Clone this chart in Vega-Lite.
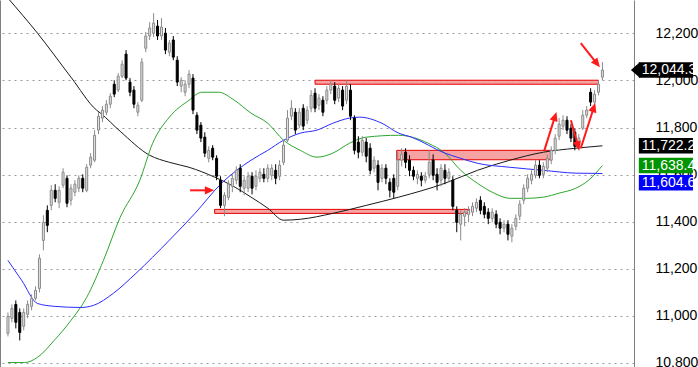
{
  "$schema": "https://vega.github.io/schema/vega-lite/v6.json",
  "width": 634,
  "height": 367,
  "padding": {"left": 0, "top": 0, "right": 64, "bottom": 0},
  "autosize": {"type": "none"},
  "background": "white",
  "config": {"view": {"stroke": null}, "font": "Liberation Sans"},
  "datasets": {
    "candles": [
      {"i":0,"o":10925,"h":11014,"l":10912,"c":10997},
      {"i":1,"o":10989,"h":11048,"l":10972,"c":11031},
      {"i":2,"o":11048,"h":11065,"l":10946,"c":10972},
      {"i":3,"o":11014,"h":11031,"l":10895,"c":10929},
      {"i":4,"o":10955,"h":11031,"l":10938,"c":11014},
      {"i":5,"o":11006,"h":11065,"l":10989,"c":11048},
      {"i":6,"o":11040,"h":11091,"l":11023,"c":11074},
      {"i":7,"o":11074,"h":11125,"l":11065,"c":11108},
      {"i":8,"o":11116,"h":11261,"l":11099,"c":11244},
      {"i":9,"o":11320,"h":11427,"l":11278,"c":11397},
      {"i":10,"o":11448,"h":11469,"l":11355,"c":11384},
      {"i":11,"o":11469,"h":11555,"l":11448,"c":11533},
      {"i":12,"o":11533,"h":11559,"l":11482,"c":11499},
      {"i":13,"o":11482,"h":11550,"l":11457,"c":11533},
      {"i":14,"o":11555,"h":11627,"l":11542,"c":11610},
      {"i":15,"o":11584,"h":11597,"l":11461,"c":11478},
      {"i":16,"o":11491,"h":11559,"l":11469,"c":11542},
      {"i":17,"o":11525,"h":11576,"l":11508,"c":11559},
      {"i":18,"o":11542,"h":11597,"l":11525,"c":11584},
      {"i":19,"o":11584,"h":11601,"l":11525,"c":11542},
      {"i":20,"o":11533,"h":11644,"l":11525,"c":11631},
      {"i":21,"o":11640,"h":11691,"l":11627,"c":11674},
      {"i":22,"o":11661,"h":11789,"l":11652,"c":11767},
      {"i":23,"o":11789,"h":11865,"l":11772,"c":11848},
      {"i":24,"o":11840,"h":11891,"l":11823,"c":11874},
      {"i":25,"o":11865,"h":11916,"l":11852,"c":11899},
      {"i":26,"o":11899,"h":11946,"l":11882,"c":11933},
      {"i":27,"o":11984,"h":12001,"l":11929,"c":11942},
      {"i":28,"o":11959,"h":12031,"l":11950,"c":12018},
      {"i":29,"o":12018,"h":12086,"l":12010,"c":12069},
      {"i":30,"o":12112,"h":12129,"l":12001,"c":12010},
      {"i":31,"o":11993,"h":12010,"l":11933,"c":11950},
      {"i":32,"o":11959,"h":11976,"l":11882,"c":11899},
      {"i":33,"o":11865,"h":11908,"l":11848,"c":11895},
      {"i":34,"o":11916,"h":12095,"l":11908,"c":12078},
      {"i":35,"o":12137,"h":12206,"l":12120,"c":12189},
      {"i":36,"o":12189,"h":12248,"l":12172,"c":12223},
      {"i":37,"o":12201,"h":12286,"l":12184,"c":12244},
      {"i":38,"o":12231,"h":12257,"l":12172,"c":12189},
      {"i":39,"o":12189,"h":12265,"l":12172,"c":12227},
      {"i":40,"o":12201,"h":12223,"l":12112,"c":12129},
      {"i":41,"o":12120,"h":12172,"l":12103,"c":12159},
      {"i":42,"o":12172,"h":12189,"l":12086,"c":12099},
      {"i":43,"o":12086,"h":12103,"l":11976,"c":11993},
      {"i":44,"o":11976,"h":12014,"l":11950,"c":12001},
      {"i":45,"o":11950,"h":12001,"l":11933,"c":11984},
      {"i":46,"o":11984,"h":12044,"l":11967,"c":12027},
      {"i":47,"o":12010,"h":12027,"l":11857,"c":11874},
      {"i":48,"o":11852,"h":11865,"l":11772,"c":11789},
      {"i":49,"o":11810,"h":11823,"l":11738,"c":11755},
      {"i":50,"o":11759,"h":11780,"l":11674,"c":11691},
      {"i":51,"o":11669,"h":11720,"l":11652,"c":11703},
      {"i":52,"o":11712,"h":11725,"l":11661,"c":11674},
      {"i":53,"o":11669,"h":11682,"l":11576,"c":11593},
      {"i":54,"o":11576,"h":11593,"l":11457,"c":11469},
      {"i":55,"o":11469,"h":11525,"l":11423,"c":11512},
      {"i":56,"o":11503,"h":11576,"l":11491,"c":11559},
      {"i":57,"o":11550,"h":11601,"l":11525,"c":11584},
      {"i":58,"o":11576,"h":11635,"l":11559,"c":11618},
      {"i":59,"o":11627,"h":11644,"l":11525,"c":11550},
      {"i":60,"o":11542,"h":11593,"l":11512,"c":11576},
      {"i":61,"o":11542,"h":11610,"l":11525,"c":11593},
      {"i":62,"o":11593,"h":11610,"l":11516,"c":11542},
      {"i":63,"o":11550,"h":11618,"l":11533,"c":11593},
      {"i":64,"o":11584,"h":11627,"l":11567,"c":11610},
      {"i":65,"o":11601,"h":11627,"l":11567,"c":11584},
      {"i":66,"o":11584,"h":11644,"l":11567,"c":11627},
      {"i":67,"o":11597,"h":11644,"l":11576,"c":11627},
      {"i":68,"o":11618,"h":11644,"l":11559,"c":11584},
      {"i":69,"o":11593,"h":11661,"l":11576,"c":11640},
      {"i":70,"o":11652,"h":11746,"l":11640,"c":11725},
      {"i":71,"o":11746,"h":11874,"l":11738,"c":11840},
      {"i":72,"o":11848,"h":11916,"l":11831,"c":11882},
      {"i":73,"o":11865,"h":11882,"l":11772,"c":11789},
      {"i":74,"o":11810,"h":11882,"l":11797,"c":11865},
      {"i":75,"o":11882,"h":11899,"l":11789,"c":11806},
      {"i":76,"o":11831,"h":11891,"l":11814,"c":11874},
      {"i":77,"o":11882,"h":11959,"l":11865,"c":11937},
      {"i":78,"o":11946,"h":11967,"l":11865,"c":11882},
      {"i":79,"o":11895,"h":11942,"l":11874,"c":11925},
      {"i":80,"o":11916,"h":11933,"l":11848,"c":11865},
      {"i":81,"o":11916,"h":11976,"l":11899,"c":11959},
      {"i":82,"o":11959,"h":12001,"l":11942,"c":11984},
      {"i":83,"o":11976,"h":11993,"l":11899,"c":11916},
      {"i":84,"o":11925,"h":11984,"l":11908,"c":11967},
      {"i":85,"o":11959,"h":11976,"l":11874,"c":11891},
      {"i":86,"o":11916,"h":12001,"l":11899,"c":11976},
      {"i":87,"o":11959,"h":11984,"l":11831,"c":11848},
      {"i":88,"o":11840,"h":11852,"l":11686,"c":11703},
      {"i":89,"o":11738,"h":11763,"l":11669,"c":11695},
      {"i":90,"o":11695,"h":11763,"l":11678,"c":11746},
      {"i":91,"o":11738,"h":11755,"l":11652,"c":11678},
      {"i":92,"o":11712,"h":11733,"l":11601,"c":11618},
      {"i":93,"o":11627,"h":11678,"l":11610,"c":11661},
      {"i":94,"o":11640,"h":11661,"l":11533,"c":11567},
      {"i":95,"o":11584,"h":11644,"l":11567,"c":11627},
      {"i":96,"o":11627,"h":11644,"l":11559,"c":11584},
      {"i":97,"o":11567,"h":11584,"l":11503,"c":11533},
      {"i":98,"o":11584,"h":11601,"l":11499,"c":11525},
      {"i":99,"o":11550,"h":11695,"l":11533,"c":11661},
      {"i":100,"o":11661,"h":11712,"l":11635,"c":11686},
      {"i":101,"o":11695,"h":11712,"l":11627,"c":11652},
      {"i":102,"o":11661,"h":11682,"l":11593,"c":11618},
      {"i":103,"o":11618,"h":11635,"l":11576,"c":11593},
      {"i":104,"o":11584,"h":11618,"l":11559,"c":11601},
      {"i":105,"o":11593,"h":11610,"l":11550,"c":11576},
      {"i":106,"o":11576,"h":11610,"l":11563,"c":11593},
      {"i":107,"o":11601,"h":11703,"l":11584,"c":11652},
      {"i":108,"o":11661,"h":11686,"l":11576,"c":11597},
      {"i":109,"o":11601,"h":11627,"l":11533,"c":11567},
      {"i":110,"o":11576,"h":11644,"l":11550,"c":11627},
      {"i":111,"o":11618,"h":11644,"l":11559,"c":11584},
      {"i":112,"o":11584,"h":11627,"l":11567,"c":11610},
      {"i":113,"o":11576,"h":11593,"l":11448,"c":11465},
      {"i":114,"o":11448,"h":11465,"l":11355,"c":11397},
      {"i":115,"o":11389,"h":11448,"l":11320,"c":11431},
      {"i":116,"o":11423,"h":11457,"l":11380,"c":11440},
      {"i":117,"o":11431,"h":11465,"l":11397,"c":11448},
      {"i":118,"o":11440,"h":11482,"l":11423,"c":11465},
      {"i":119,"o":11457,"h":11499,"l":11440,"c":11482},
      {"i":120,"o":11491,"h":11508,"l":11431,"c":11448},
      {"i":121,"o":11465,"h":11482,"l":11414,"c":11431},
      {"i":122,"o":11440,"h":11457,"l":11389,"c":11414},
      {"i":123,"o":11414,"h":11457,"l":11397,"c":11440},
      {"i":124,"o":11431,"h":11448,"l":11372,"c":11389},
      {"i":125,"o":11397,"h":11414,"l":11346,"c":11372},
      {"i":126,"o":11372,"h":11406,"l":11355,"c":11389},
      {"i":127,"o":11389,"h":11406,"l":11320,"c":11346},
      {"i":128,"o":11338,"h":11389,"l":11312,"c":11372},
      {"i":129,"o":11380,"h":11431,"l":11363,"c":11414},
      {"i":130,"o":11423,"h":11491,"l":11406,"c":11474},
      {"i":131,"o":11491,"h":11559,"l":11474,"c":11542},
      {"i":132,"o":11542,"h":11601,"l":11525,"c":11584},
      {"i":133,"o":11576,"h":11618,"l":11559,"c":11601},
      {"i":134,"o":11597,"h":11661,"l":11584,"c":11640},
      {"i":135,"o":11640,"h":11661,"l":11584,"c":11597},
      {"i":136,"o":11601,"h":11652,"l":11584,"c":11635},
      {"i":137,"o":11627,"h":11686,"l":11610,"c":11669},
      {"i":138,"o":11661,"h":11720,"l":11644,"c":11703},
      {"i":139,"o":11703,"h":11772,"l":11686,"c":11755},
      {"i":140,"o":11763,"h":11840,"l":11746,"c":11814},
      {"i":141,"o":11806,"h":11852,"l":11789,"c":11831},
      {"i":142,"o":11831,"h":11848,"l":11772,"c":11789},
      {"i":143,"o":11797,"h":11814,"l":11738,"c":11755},
      {"i":144,"o":11780,"h":11797,"l":11703,"c":11720},
      {"i":145,"o":11725,"h":11772,"l":11703,"c":11755},
      {"i":146,"o":11797,"h":11874,"l":11789,"c":11852},
      {"i":147,"o":11852,"h":11891,"l":11840,"c":11874},
      {"i":148,"o":11950,"h":11967,"l":11891,"c":11908},
      {"i":149,"o":11908,"h":11959,"l":11891,"c":11942},
      {"i":150,"o":11950,"h":12001,"l":11937,"c":11984},
      {"i":151,"o":12014,"h":12078,"l":12001,"c":12044.3}
    ],
    "ma": [
      {"s":"long","i":0,"v":12350},{"s":"long","i":7.5,"v":12201},{"s":"long","i":16,"v":12014},{"s":"long","i":22.5,"v":11874},{"s":"long","i":23.5,"v":11861},{"s":"long","i":28.5,"v":11784},{"s":"long","i":36,"v":11682},{"s":"long","i":41,"v":11652},{"s":"long","i":46,"v":11631},{"s":"long","i":52.5,"v":11589},{"s":"long","i":56.75,"v":11555},{"s":"long","i":61.75,"v":11504},{"s":"long","i":66,"v":11457},{"s":"long","i":70,"v":11406},{"s":"long","i":74.25,"v":11410},{"s":"long","i":82.5,"v":11435},{"s":"long","i":91,"v":11469},{"s":"long","i":99.25,"v":11504},{"s":"long","i":111,"v":11563},{"s":"long","i":119.25,"v":11618},{"s":"long","i":127.5,"v":11661},{"s":"long","i":136,"v":11695},{"s":"long","i":144.25,"v":11712},{"s":"long","i":151,"v":11722.2},
      {"s":"mid","i":0,"v":10801},{"s":"mid","i":4.25,"v":10801},{"s":"mid","i":7.5,"v":10823},{"s":"mid","i":11.75,"v":10895},{"s":"mid","i":16,"v":10980},{"s":"mid","i":20,"v":11078},{"s":"mid","i":24.25,"v":11235},{"s":"mid","i":28.5,"v":11418},{"s":"mid","i":33.5,"v":11576},{"s":"mid","i":36.75,"v":11733},{"s":"mid","i":41,"v":11844},{"s":"mid","i":46,"v":11916},{"s":"mid","i":49.25,"v":11950},{"s":"mid","i":53.5,"v":11950},{"s":"mid","i":57.5,"v":11916},{"s":"mid","i":61.75,"v":11861},{"s":"mid","i":66,"v":11818},{"s":"mid","i":70,"v":11746},{"s":"mid","i":74.25,"v":11703},{"s":"mid","i":78.5,"v":11674},{"s":"mid","i":82.5,"v":11691},{"s":"mid","i":86.75,"v":11733},{"s":"mid","i":91,"v":11759},{"s":"mid","i":99.25,"v":11767},{"s":"mid","i":106.75,"v":11733},{"s":"mid","i":111,"v":11691},{"s":"mid","i":115,"v":11618},{"s":"mid","i":119.25,"v":11563},{"s":"mid","i":123.5,"v":11521},{"s":"mid","i":127.5,"v":11499},{"s":"mid","i":131.75,"v":11499},{"s":"mid","i":136,"v":11504},{"s":"mid","i":140,"v":11521},{"s":"mid","i":144.25,"v":11542},{"s":"mid","i":147.5,"v":11576},{"s":"mid","i":151,"v":11638.4},
      {"s":"short","i":0,"v":11235},{"s":"short","i":3.5,"v":11150},{"s":"short","i":7.5,"v":11052},{"s":"short","i":11.75,"v":11040},{"s":"short","i":18.5,"v":11035},{"s":"short","i":21.75,"v":11044},{"s":"short","i":26.75,"v":11095},{"s":"short","i":32.5,"v":11180},{"s":"short","i":41,"v":11321},{"s":"short","i":47.5,"v":11435},{"s":"short","i":54.25,"v":11563},{"s":"short","i":61.75,"v":11661},{"s":"short","i":66,"v":11703},{"s":"short","i":70,"v":11746},{"s":"short","i":74.25,"v":11776},{"s":"short","i":78.5,"v":11789},{"s":"short","i":82.5,"v":11818},{"s":"short","i":86.75,"v":11840},{"s":"short","i":89.25,"v":11844},{"s":"short","i":95,"v":11818},{"s":"short","i":99.25,"v":11776},{"s":"short","i":102.5,"v":11759},{"s":"short","i":111,"v":11691},{"s":"short","i":115,"v":11669},{"s":"short","i":119.25,"v":11648},{"s":"short","i":127.5,"v":11631},{"s":"short","i":136,"v":11618},{"s":"short","i":144.25,"v":11606},{"s":"short","i":151,"v":11604.6}
    ],
    "bands": [
      {"a":78.0,"b":150.0,"top":12001,"bot":11984},
      {"a":52.5,"b":117.25,"top":11452,"bot":11435},
      {"a":98.75,"b":138.0,"top":11703,"bot":11663}
    ],
    "arrows": [
      {"x1":46.25,"p1":11533,"x2":51.0,"p2":11533,"ang":90},
      {"x1":145.5,"p1":12159,"x2":149.5,"p2":12074,"ang":142},
      {"x1":136.25,"p1":11703,"x2":138.9,"p2":11844,"ang":18},
      {"x1":143.0,"p1":11831,"x2":144.75,"p2":11725,"ang":165},
      {"x1":145.5,"p1":11712,"x2":148.75,"p2":11882,"ang":18}
    ],
    "tags": [
      {"label":"12,044.3","pos":12044.3,"kind":"last"},
      {"label":"11,722.2","pos":11722.2,"kind":"long"},
      {"label":"11,638.4","pos":11638.4,"kind":"mid"},
      {"label":"11,604.6","pos":11565,"kind":"short"}
    ]
  },
  "layer": [
    {
      "data": {"name": "bands"},
      "mark": {"type": "rect", "fill": "#f5a3a3", "stroke": "#e60000", "strokeWidth": 1},
      "encoding": {
        "x": {"field": "a", "type": "quantitative", "scale": {"domain": [-0.75, 157.75], "nice": false, "zero": false}, "axis": null},
        "x2": {"field": "b"},
        "y": {"field": "top", "type": "quantitative", "scale": {"domain": [10782, 12342], "nice": false, "zero": false},
              "axis": {"orient": "left", "labels": false, "ticks": false, "grid": false, "domain": true, "domainColor": "#808080", "title": null}},
        "y2": {"field": "bot"}
      }
    },
    {
      "data": {"name": "ma"},
      "mark": {"type": "line", "interpolate": "monotone", "strokeWidth": 1, "clip": true},
      "encoding": {
        "x": {"field": "i", "type": "quantitative", "scale": {"domain": [-0.75, 157.75], "nice": false, "zero": false}, "axis": null},
        "y": {"field": "v", "type": "quantitative", "scale": {"domain": [10782, 12342], "nice": false, "zero": false}, "axis": null},
        "color": {"field": "s", "type": "nominal", "scale": {"domain": ["long", "mid", "short"], "range": ["#1a1a1a", "#2ea52e", "#2b2bff"]}, "legend": null}
      }
    },
    {
      "data": {"name": "candles"},
      "transform": [{"calculate": "datum.c >= datum.o ? 'up' : 'down'", "as": "dir"}],
      "mark": {"type": "rule", "strokeWidth": 1},
      "encoding": {
        "x": {"field": "i", "type": "quantitative", "scale": {"domain": [-0.75, 157.75], "nice": false, "zero": false}, "axis": null},
        "y": {"field": "l", "type": "quantitative", "scale": {"domain": [10782, 12342], "nice": false, "zero": false}, "axis": null},
        "y2": {"field": "h"},
        "color": {"field": "dir", "type": "nominal", "scale": {"domain": ["up", "down"], "range": ["#8a8a8a", "#000000"]}, "legend": null}
      }
    },
    {
      "data": {"name": "candles"},
      "transform": [{"calculate": "datum.c >= datum.o ? 'up' : 'down'", "as": "dir"}],
      "mark": {"type": "bar", "width": 2, "strokeWidth": 1},
      "encoding": {
        "x": {"field": "i", "type": "quantitative", "scale": {"domain": [-0.75, 157.75], "nice": false, "zero": false}, "axis": null},
        "y": {"field": "o", "type": "quantitative", "scale": {"domain": [10782, 12342], "nice": false, "zero": false},
              "axis": {"orient": "right", "values": [10800, 11000, 11200, 11400, 11600, 11800, 12000, 12200], "format": ",d",
                       "grid": true, "gridDash": [2, 4], "gridColor": "#9a9a9a", "gridOpacity": 1,
                       "domain": true, "domainColor": "#808080", "ticks": false, "labelPadding": 21,
                       "labelFontSize": 14, "labelColor": "#000000", "labelFont": "Liberation Sans",
                       "labelFlush": false, "labelOverlap": false, "labelBound": false, "title": null, "zindex": 0}},
        "y2": {"field": "c"},
        "fill": {"field": "dir", "type": "nominal", "scale": {"domain": ["up", "down"], "range": ["#e2e2e2", "#000000"]}, "legend": null},
        "stroke": {"field": "dir", "type": "nominal", "scale": {"domain": ["up", "down"], "range": ["#8a8a8a", "#000000"]}, "legend": null}
      }
    },
    {
      "data": {"name": "arrows"},
      "mark": {"type": "rule", "color": "#ff1a1a", "strokeWidth": 2},
      "encoding": {
        "x": {"field": "x1", "type": "quantitative", "scale": {"domain": [-0.75, 157.75], "nice": false, "zero": false}, "axis": null},
        "x2": {"field": "x2"},
        "y": {"field": "p1", "type": "quantitative", "scale": {"domain": [10782, 12342], "nice": false, "zero": false}, "axis": null},
        "y2": {"field": "p2"}
      }
    },
    {
      "data": {"name": "arrows"},
      "mark": {"type": "point", "shape": "M0,-1L0.75,0.7L-0.75,0.7Z", "filled": true, "color": "#ff1a1a", "opacity": 1, "size": 120},
      "encoding": {
        "x": {"field": "x2", "type": "quantitative", "scale": {"domain": [-0.75, 157.75], "nice": false, "zero": false}, "axis": null},
        "y": {"field": "p2", "type": "quantitative", "scale": {"domain": [10782, 12342], "nice": false, "zero": false}, "axis": null},
        "angle": {"field": "ang", "type": "quantitative", "scale": null}
      }
    },
    {
      "data": {"name": "tags"},
      "transform": [{"calculate": "datum.pos + 33", "as": "ytop"}, {"calculate": "datum.pos - 33", "as": "ybot"}],
      "mark": {"type": "rect"},
      "encoding": {
        "x": {"datum": 160.25, "type": "quantitative", "scale": {"domain": [-0.75, 157.75], "nice": false, "zero": false}, "axis": null},
        "x2": {"datum": 174},
        "y": {"field": "ytop", "type": "quantitative", "scale": {"domain": [10782, 12342], "nice": false, "zero": false}, "axis": null},
        "y2": {"field": "ybot"},
        "fill": {"field": "kind", "type": "nominal", "scale": {"domain": ["last", "long", "mid", "short"], "range": ["#000000", "#000000", "#009400", "#0000ff"]}, "legend": null}
      }
    },
    {
      "data": {"name": "tags"},
      "transform": [{"filter": "datum.kind == 'last'"}],
      "mark": {"type": "point", "shape": "M-0.55,0L0.6,-1L0.6,1Z", "filled": true, "color": "#000000", "opacity": 1, "size": 256},
      "encoding": {
        "x": {"datum": 159.35, "type": "quantitative", "scale": {"domain": [-0.75, 157.75], "nice": false, "zero": false}, "axis": null},
        "y": {"field": "pos", "type": "quantitative", "scale": {"domain": [10782, 12342], "nice": false, "zero": false}, "axis": null}
      }
    },
    {
      "data": {"name": "tags"},
      "mark": {"type": "text", "align": "left", "baseline": "middle", "fontSize": 14, "font": "Liberation Sans", "color": "#ffffff"},
      "encoding": {
        "x": {"datum": 161.0, "type": "quantitative", "scale": {"domain": [-0.75, 157.75], "nice": false, "zero": false}, "axis": null},
        "y": {"field": "pos", "type": "quantitative", "scale": {"domain": [10782, 12342], "nice": false, "zero": false}, "axis": null},
        "text": {"field": "label", "type": "nominal"}
      }
    }
  ],
  "resolve": {"scale": {"color": "independent", "fill": "independent", "stroke": "independent"}, "axis": {"y": "independent"}}
}
